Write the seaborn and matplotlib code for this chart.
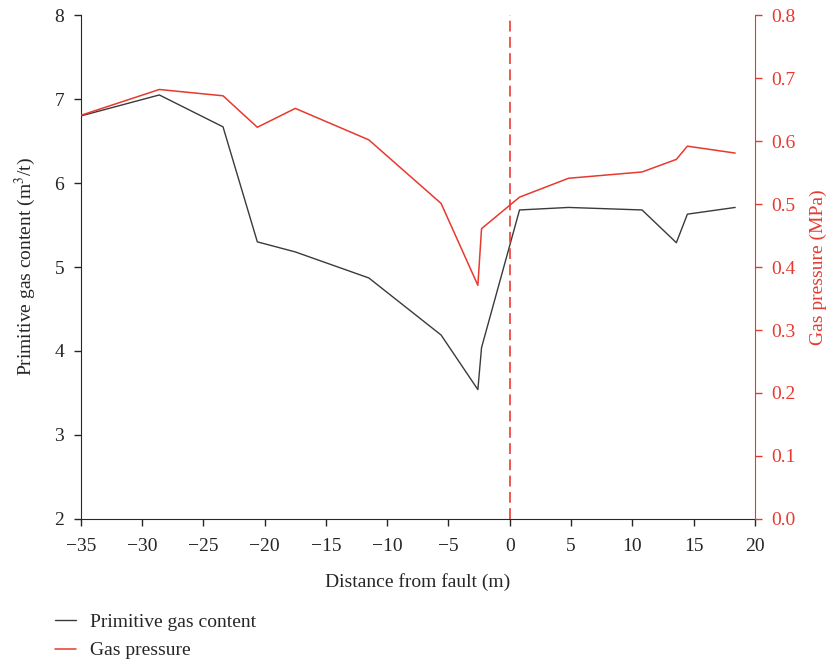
import pandas as pd
import seaborn as sns
import matplotlib
matplotlib.use("Agg")
import matplotlib.pyplot as plt

# distance from fault (m)
distance = [-35.0, -28.6, -23.4, -20.6, -17.5, -11.5, -5.6, -2.6, -2.3,
            0.8, 4.8, 10.8, 13.6, 14.5, 18.4]
gas_content = [6.80, 7.05, 6.67, 5.30, 5.18, 4.87, 4.19, 3.54, 4.04,
               5.68, 5.71, 5.68, 5.29, 5.63, 5.71]
gas_pressure = [0.641, 0.682, 0.672, 0.622, 0.652, 0.602, 0.501, 0.371, 0.461,
                0.511, 0.541, 0.551, 0.571, 0.592, 0.581]

RED = "#e8392f"
DARK = "#3a3a3a"

sns.set_style("ticks")
plt.rcParams["font.family"] = ["Liberation Serif", "DejaVu Serif"]
plt.rcParams["mathtext.fontset"] = "stix"
FS = 14

df = pd.DataFrame({"distance": distance, "content": gas_content, "pressure": gas_pressure})

fig = plt.figure(figsize=(8.34, 6.61), dpi=100)
ax = fig.add_axes([0.097, 0.215, 0.808, 0.762])
sns.lineplot(data=df, x="distance", y="content", ax=ax, color=DARK, lw=1.0,
             label="Primitive gas content", legend=False)
ax2 = ax.twinx()
sns.lineplot(data=df, x="distance", y="pressure", ax=ax2, color=RED, lw=1.1,
             label="Gas pressure", legend=False)
ax2.axvline(0, color=RED, ls=(0, (6, 3)), lw=1.3, alpha=0.9)

ax.set_xlim(-35, 20)
ax.set_ylim(2, 8)
ax2.set_ylim(0, 0.8)
ax.set_xticks(range(-35, 21, 5))
ax.set_xticklabels([str(v).replace("-", "\u2212") for v in range(-35, 21, 5)])
ax.set_yticks(range(2, 9))
ax2.set_yticks([i / 10 for i in range(9)])
ax2.set_yticklabels([f"{i / 10:.1f}" for i in range(9)])

ax.set_xlabel("Distance from fault (m)", fontsize=FS, labelpad=13)
ax.set_ylabel("Primitive gas content (m$^3$/t)", fontsize=FS, labelpad=12)
ax2.set_ylabel("Gas pressure (MPa)", fontsize=FS, color=RED, labelpad=10)

for a in (ax, ax2):
    a.spines["top"].set_visible(False)
    a.tick_params(labelsize=FS, length=5, width=1, pad=7)
ax.tick_params(axis="x", pad=9)
ax.spines["right"].set_visible(False)
ax2.spines["left"].set_visible(False)
ax2.spines["bottom"].set_visible(False)
ax2.spines["right"].set_color(RED)
ax2.tick_params(axis="y", colors=RED)

h1, l1 = ax.get_legend_handles_labels()
h2, l2 = ax2.get_legend_handles_labels()
fig.legend(h1 + h2, l1 + l2, loc="lower left", bbox_to_anchor=(0.045, -0.024),
           frameon=False, fontsize=FS, handlelength=1.1, handletextpad=0.7,
           labelspacing=0.55)

fig.savefig("out.png", dpi=100)
